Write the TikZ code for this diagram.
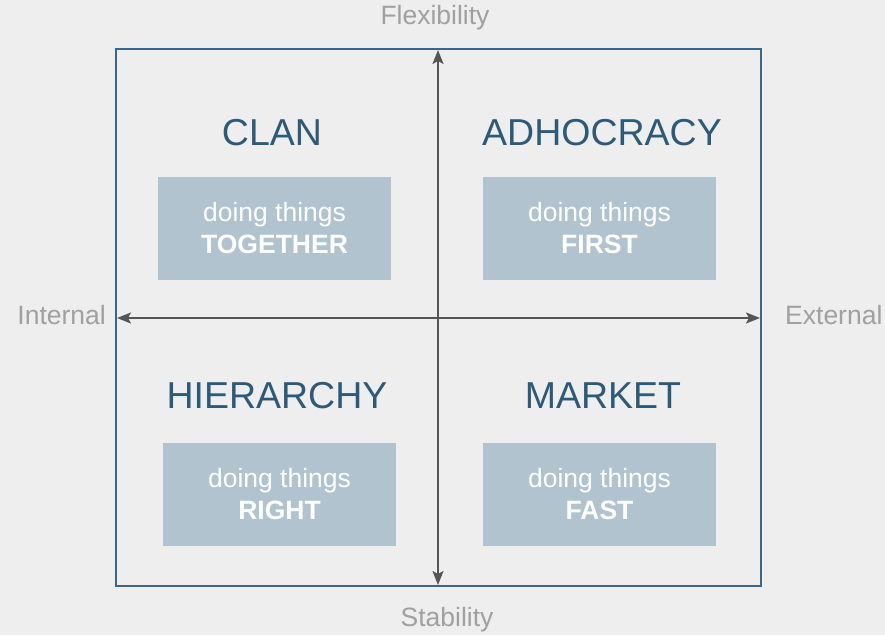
\documentclass[tikz,border=0pt]{standalone}
\usepackage{fontspec}
\setmainfont{Liberation Sans}
\usetikzlibrary{arrows.meta}
\definecolor{bg}{HTML}{EEEEEE}
\definecolor{frameblue}{HTML}{3A6788}
\definecolor{titleblue}{HTML}{2C5A79}
\definecolor{boxfill}{HTML}{B1C3CE}
\definecolor{axisgray}{HTML}{555555}
\definecolor{labelgray}{HTML}{A0A0A0}
\tikzset{
  title/.style={font=\fontsize{37.5}{42}\selectfont, text=titleblue, inner sep=0pt},
  valuebox/.style={fill=boxfill, draw=none, minimum width=233pt, minimum height=103pt,
    text=white, align=center, font=\fontsize{26.5}{32}\selectfont, inner sep=0pt},
  axislabel/.style={font=\fontsize{26.5}{30}\selectfont, text=labelgray, inner sep=0pt},
  axis/.style={draw=axisgray, line width=1.8pt, {Stealth[length=14pt,width=11pt,inset=3pt]}-{Stealth[length=14pt,width=11pt,inset=3pt]}}
}
\begin{document}
\begin{tikzpicture}[x=1pt,y=-1pt]
  \fill[bg] (0,0) rectangle (885,635);
  \useasboundingbox (0,0) rectangle (885,635);

  % outer frame
  \draw[frameblue, line width=1.8pt] (116,49) rectangle (761,586);

  % axis end points
  \coordinate (top) at (438,50);
  \coordinate (bottom) at (438,585);
  \coordinate (left) at (117,318);
  \coordinate (right) at (760,318);
  \draw[axis] (bottom) -- (top);
  \draw[axis] (left) -- (right);

  % axis labels
  \node[axislabel] (flex) at (435,18) {Flexibility};
  \node[axislabel] (stab) at (447,620) {Stability};
  \node[axislabel, anchor=east] (int) at (106,315) {Internal};
  \node[axislabel, anchor=west] (ext) at (785,315) {External};

  % quadrant titles
  \node[title] (clan) at (272,133) {CLAN};
  \node[title] (adho) at (602,133) {ADHOCRACY};
  \node[title] (hier) at (277,396) {HIERARCHY};
  \node[title] (mark) at (603,396) {MARKET};

  % value boxes
  \node[valuebox] (b1) at (274.5,228.5) {doing things\\\textbf{TOGETHER}};
  \node[valuebox] (b2) at (599.5,228.5) {doing things\\\textbf{FIRST}};
  \node[valuebox] (b3) at (279.5,494.5) {doing things\\\textbf{RIGHT}};
  \node[valuebox] (b4) at (599.5,494.5) {doing things\\\textbf{FAST}};
\end{tikzpicture}
\end{document}
